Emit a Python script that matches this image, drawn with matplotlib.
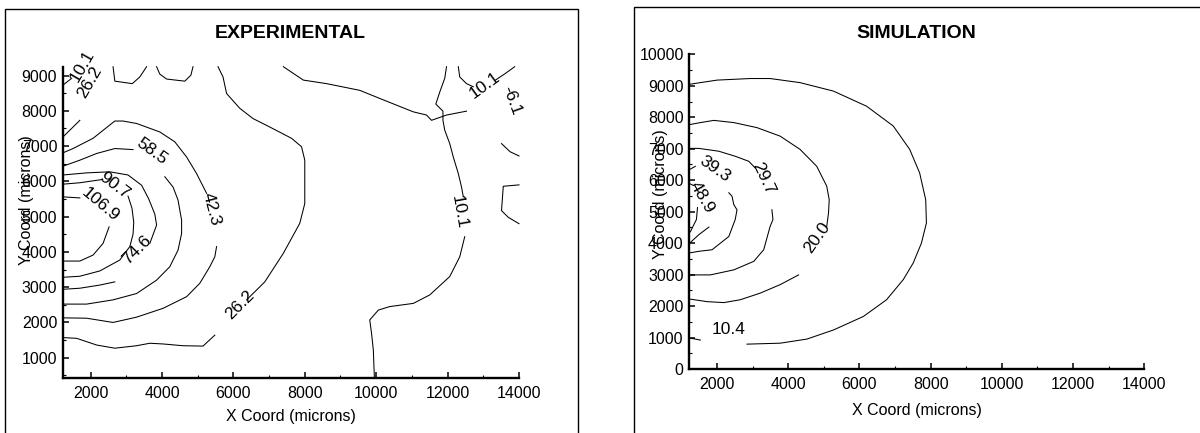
import numpy as np
import matplotlib.pyplot as plt
from matplotlib.patches import Rectangle
from matplotlib.ticker import MultipleLocator

plt.rcParams['font.family'] = ['Liberation Sans', 'DejaVu Sans']

# ---------------- EXPERIMENTAL: contour pieces (microns)
e1069a_x = [1230, 1700]
e1069a_y = [5560, 5530]
e1069b_x = [2520, 2350, 2070, 1700, 1230]
e1069b_y = [4710, 4240, 3910, 3740, 3740]
e907a_x = [1230, 1700, 2310]
e907a_y = [5920, 5960, 6050]
e907b_x = [3050, 3160, 3210, 3190, 3100, 2820, 2260, 1700, 1230]
e907b_y = [5580, 5240, 4840, 4500, 4150, 3770, 3460, 3310, 3280]
e746a_x = [1230, 1890, 2540, 3050, 3430, 3630, 3800, 3850, 3660]
e746a_y = [6180, 6240, 6270, 6180, 5890, 5500, 5070, 4760, 4240]
e746b_x = [2680, 2260, 1700, 1230]
e746b_y = [3150, 3060, 2970, 2940]
e585a_x = [1230, 1700, 2170, 2680, 3190]
e585a_y = [6430, 6600, 6790, 6930, 6900]
e585b_x = [4080, 4310, 4450, 4550, 4550, 4450, 4220, 3850, 3290, 2630, 1890, 1230]
e585b_y = [6130, 5840, 5470, 4900, 4520, 4050, 3580, 3200, 2820, 2640, 2520, 2520]
e423a_x = [1230, 1510, 2070, 2680, 2910, 3290, 3940, 4360, 4690, 4970, 5250]
e423a_y = [6810, 6930, 7220, 7710, 7710, 7640, 7400, 7120, 6690, 6220, 5660]
e423b_x = [5530, 5480, 5340, 5060, 4690, 4030, 3290, 2630, 1890, 1230]
e423b_y = [4150, 3860, 3580, 3110, 2730, 2400, 2150, 2000, 2120, 2130]
e262a_x = [1230, 1610, 2170, 2680, 3290, 3660, 4030, 4590, 5150, 5480]
e262a_y = [1570, 1550, 1360, 1270, 1340, 1410, 1390, 1340, 1330, 1640]
e262b_x = [6370, 6880, 7400, 7860, 8000, 8000, 7910, 7630, 7020, 6550, 6180, 5810, 5710, 5570]
e262b_y = [2640, 3150, 3960, 4810, 5370, 6600, 6980, 7220, 7540, 7780, 8070, 8490, 8960, 9250]
e262c_x = [1230, 1700]
e262c_y = [7260, 7730]
e101a_x = [1230, 1470]
e101a_y = [8730, 8920]
eu1_x = [2630, 2680, 3170, 3380, 3570]
eu1_y = [9250, 8840, 8770, 8960, 9250]
eu2_x = [3850, 3940, 4130, 4640, 4810, 4870]
eu2_y = [9250, 9040, 8900, 8840, 9010, 9250]
etop_x = [7400, 7960, 8610, 9540, 10100, 11040, 11410, 11550, 11970, 12530]
etop_y = [9250, 8870, 8770, 8580, 8350, 7970, 7880, 7730, 7880, 7990]
e101b_x = [11970, 11920, 11780, 11670, 11870, 11870, 11920, 12060, 12160, 12300, 12390, 12440]
e101b_y = [9250, 8920, 8530, 8190, 7990, 7730, 7450, 7070, 6690, 6220, 5840, 5560]
e101c_x = [12480, 12340, 12060, 11500, 11040, 10380, 10060, 9820, 9870, 9920, 9950]
e101c_y = [4430, 3860, 3300, 2780, 2540, 2450, 2350, 2070, 1690, 1220, 425]
e101d_x = [12300, 12340, 12530, 12720]
e101d_y = [9250, 8960, 8770, 8680]
e101e_x = [13340, 13620, 13880]
e101e_y = [8870, 9060, 9250]
earc_x = [13510, 13750, 14000]
earc_y = [7070, 6840, 6720]
ebrk_x = [14000, 13560, 13510, 13700, 14000]
ebrk_y = [5900, 5860, 5170, 4980, 4800]

exp_lbl = ['106.9', '90.7', '74.6', '58.5', '42.3', '26.2', '26.2', '10.1', '10.1', '10.1', '-6.1']
exp_lbl_x = [2260, 2680, 3300, 3710, 5370, 6180, 1980, 1760, 12320, 13040, 13800]
exp_lbl_y = [5330, 5890, 4050, 6860, 5210, 2490, 8810, 9260, 5130, 8730, 8300]
exp_lbl_rot = [-40, -37, 45, -36, -75, 45, 60, 60, -80, 36, -70]

# ---------------- SIMULATION
s104a_x = [1250, 1530, 2000, 2930, 3490, 4330, 5270, 6200, 6950, 7410, 7690, 7860, 7880,
           7740, 7510, 7230, 6760, 6110, 5270, 4520, 3770, 2840]
s104a_y = [9050, 9100, 9180, 9230, 9230, 9100, 8830, 8350, 7720, 6980, 6230, 5380, 4640,
           4000, 3370, 2840, 2200, 1670, 1240, 950, 820, 790]
s104b_x = [1250, 1530]
s104b_y = [980, 920]
s200a_x = [1250, 1530, 1910, 2470, 3120, 3770, 4330, 4800, 5080, 5150, 5130, 5080]
s200a_y = [7770, 7830, 7900, 7830, 7670, 7400, 6980, 6440, 5810, 5380, 4960, 4530]
s200b_x = [4290, 3770, 3210, 2650, 2190, 1720, 1250]
s200b_y = [2990, 2680, 2410, 2200, 2110, 2140, 2220]
s297a_x = [1230, 1490, 2050, 2510, 2890, 3070]
s297a_y = [7010, 7010, 6920, 6760, 6600, 6390]
s297b_x = [3540, 3570, 3490, 3310, 3030, 2470, 1810, 1250]
s297b_y = [5060, 4750, 4530, 3790, 3420, 3150, 2990, 2990]
s393a_x = [1230, 1390]
s393a_y = [6340, 6440]
s393b_x = [2330, 2420, 2470, 2560, 2510, 2330, 1860, 1490, 1230]
s393b_y = [5600, 5490, 5220, 5060, 4750, 4210, 3790, 3740, 3690]
s489a_x = [1230, 1340]
s489a_y = [5890, 5830]
s489b_x = [1450, 1420, 1250]
s489b_y = [5130, 4750, 4360]
sin_x = [1230, 1490, 1770]
sin_y = [4000, 4270, 4510]

sim_lbl = ['10.4', '20.0', '29.7', '39.3', '48.9']
sim_lbl_x = [2320, 4820, 3310, 1930, 1570]
sim_lbl_y = [1240, 4160, 6040, 6370, 5460]
sim_lbl_rot = [0, 55, -65, -35, -60]

exp_lines = [(e1069a_x, e1069a_y), (e1069b_x, e1069b_y), (e907a_x, e907a_y), (e907b_x, e907b_y),
             (e746a_x, e746a_y), (e746b_x, e746b_y), (e585a_x, e585a_y), (e585b_x, e585b_y),
             (e423a_x, e423a_y), (e423b_x, e423b_y), (e262a_x, e262a_y), (e262b_x, e262b_y),
             (e262c_x, e262c_y), (e101a_x, e101a_y), (eu1_x, eu1_y), (eu2_x, eu2_y),
             (etop_x, etop_y), (e101b_x, e101b_y), (e101c_x, e101c_y), (e101d_x, e101d_y),
             (e101e_x, e101e_y), (earc_x, earc_y), (ebrk_x, ebrk_y)]
sim_lines = [(s104a_x, s104a_y), (s104b_x, s104b_y), (s200a_x, s200a_y), (s200b_x, s200b_y),
             (s297a_x, s297a_y), (s297b_x, s297b_y), (s393a_x, s393a_y), (s393b_x, s393b_y),
             (s489a_x, s489a_y), (s489b_x, s489b_y), (sin_x, sin_y)]

W, H = 1200, 433
fig = plt.figure(figsize=(12, 4.33), dpi=100)
ax1 = fig.add_axes([62.7 / W, 1 - 378 / H, (519 - 62.7) / W, (378 - 66.7) / H])
ax2 = fig.add_axes([689.3 / W, 1 - 369 / H, (1144.3 - 689.3) / W, (369 - 54.3) / H])


def style(ax, ylo, yhi):
    ax.set_xlim(1220, 14000)
    ax.set_ylim(ylo, yhi)
    ax.spines[['top', 'right']].set_visible(False)
    ax.spines[['left', 'bottom']].set_linewidth(1.7)
    ax.xaxis.set_major_locator(MultipleLocator(2000))
    ax.xaxis.set_minor_locator(MultipleLocator(1000))
    ax.yaxis.set_major_locator(MultipleLocator(1000))
    ax.yaxis.set_minor_locator(MultipleLocator(500))
    ax.tick_params(which='major', direction='in', length=4, width=1.1, labelsize=11.5, pad=4)
    ax.tick_params(which='minor', direction='in', length=2.5, width=0.8)
    ax.tick_params(axis='x', pad=6)
    ax.patch.set_alpha(0)


style(ax1, 425, 9250)
style(ax2, 0, 10000)

for xs, ys in exp_lines:
    ax1.plot(xs, ys, color='black', lw=0.75, clip_on=False)
for t, x, y, r in zip(exp_lbl, exp_lbl_x, exp_lbl_y, exp_lbl_rot):
    ax1.text(x, y, t, rotation=r, ha='center', va='center', rotation_mode='anchor', fontsize=12.5)

for xs, ys in sim_lines:
    ax2.plot(xs, ys, color='black', lw=0.75, clip_on=False)
for t, x, y, r in zip(sim_lbl, sim_lbl_x, sim_lbl_y, sim_lbl_rot):
    ax2.text(x, y, t, rotation=r, ha='center', va='center', rotation_mode='anchor', fontsize=12.5)

# titles and axis labels placed as in the picture
fig.text(290 / W, 1 - 33 / H, 'EXPERIMENTAL', ha='center', va='center', fontsize=14, fontweight='bold')
fig.text(916 / W, 1 - 33 / H, 'SIMULATION', ha='center', va='center', fontsize=14, fontweight='bold')
fig.text(290.5 / W, 1 - 416 / H, 'X Coord (microns)', ha='center', va='center', fontsize=11.5)
fig.text(917 / W, 1 - 411 / H, 'X Coord (microns)', ha='center', va='center', fontsize=11.5)
fig.text(27 / W, 1 - 200 / H, 'Y Coord (microns)', ha='center', va='center', rotation=90, fontsize=11.5)
fig.text(660 / W, 1 - 194 / H, 'Y Coord (microns)', ha='center', va='center', rotation=90, fontsize=11.5)

# panel frames
fig.add_artist(Rectangle((5 / W, -0.1), (578 - 5) / W, 0.1 + 1 - 9 / H, transform=fig.transFigure,
                         fill=False, edgecolor='black', lw=1))
fig.add_artist(Rectangle((634 / W, -0.1), 0.6, 0.1 + 1 - 7.3 / H, transform=fig.transFigure,
                         fill=False, edgecolor='black', lw=1))

fig.savefig('out.png', dpi=100)
